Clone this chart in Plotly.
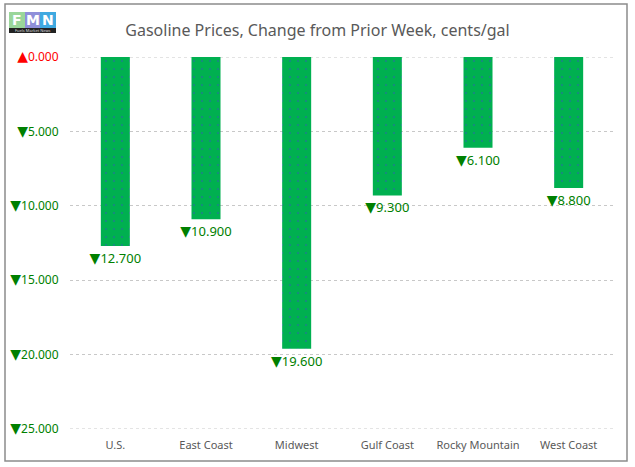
import plotly.graph_objects as go

regions = ["U.S.", "East Coast", "Midwest", "Gulf Coast", "Rocky Mountain", "West Coast"]
change = [12.7, 10.9, 19.6, 9.3, 6.1, 8.8]  # cents/gal decrease
tick_vals = [0, 5, 10, 15, 20, 25]

TRI = "font-family:DejaVu Sans;font-size:14px"
tick_text = [f"<span style='color:#FF0000'><span style='{TRI}'>▲</span>0.000</span>"] + [
    f"<span style='color:#008000'><span style='{TRI}'>▼</span>{v:.3f}</span>" for v in tick_vals[1:]
]
labels = [f"<span style='{TRI}'>▼</span>{v:.3f}" for v in change]

L, R, T, B = 70, 21, 57, 38
W, H = 635, 467
pw, ph = W - L - R, H - T - B

def px(x):
    return (x - L) / pw

def py(y):
    return (H - B - y) / ph

fig = go.Figure(go.Bar(
    x=regions, y=change, text=labels, textposition="outside", constraintext="none",
    textfont=dict(color="#008000", size=13, family="Noto Sans"),
    marker=dict(color="#00B050", line=dict(width=0),
                pattern=dict(shape=".", fgcolor="#3355bb", bgcolor="#00B050", size=8, solidity=0.06)),
    width=0.32, cliponaxis=False,
))

fig.update_layout(
    width=W, height=H, margin=dict(l=L, r=R, t=T, b=B, autoexpand=False),
    paper_bgcolor="white", plot_bgcolor="white", showlegend=False,
    title=dict(text="Gasoline Prices, Change from Prior Week, cents/gal", x=0.5, xanchor="center",
               y=1 - 30 / H, yanchor="middle",
               font=dict(size=16, color="#595959", family="Noto Sans")),
    font=dict(family="Noto Sans", color="#595959"),
    xaxis=dict(showgrid=False, showline=False, automargin=False,
               ticks="outside", ticklen=6, tickcolor="rgba(0,0,0,0)",
               tickfont=dict(size=11, color="#595959")),
    yaxis=dict(range=[25, 0], tickvals=tick_vals, ticktext=tick_text, showgrid=True, automargin=False,
               gridcolor="#c8c8c8", griddash="dot", zeroline=False, showline=False,
               tickfont=dict(size=12), ticks="outside", ticklen=8, tickcolor="rgba(0,0,0,0)"),
)

shapes = [
    dict(type="rect", xref="paper", yref="paper", x0=px(5), x1=px(627), y0=py(461), y1=py(4),
         line=dict(color="#8c8c8c", width=1.5), layer="below"),
    dict(type="line", xref="paper", yref="y", x0=0, x1=1, y0=tick_vals[0], y1=tick_vals[0],
         line=dict(color="#c8c8c8", width=1, dash="dot"), layer="below"),
    dict(type="line", xref="paper", yref="y", x0=0, x1=1, y0=tick_vals[-1], y1=tick_vals[-1],
         line=dict(color="#c8c8c8", width=1, dash="dot"), layer="below"),
    dict(type="rect", xref="paper", yref="paper", x0=px(9), x1=px(25), y0=py(28), y1=py(12),
         fillcolor="#9ad69a", line=dict(width=0)),
    dict(type="rect", xref="paper", yref="paper", x0=px(25), x1=px(40), y0=py(28), y1=py(12),
         fillcolor="#8f8fd9", line=dict(width=0)),
    dict(type="rect", xref="paper", yref="paper", x0=px(40), x1=px(56), y0=py(28), y1=py(12),
         fillcolor="#3fa9e0", line=dict(width=0)),
    dict(type="rect", xref="paper", yref="paper", x0=px(9), x1=px(56), y0=py(33), y1=py(28),
         fillcolor="#222222", line=dict(width=0)),
]
fig.update_layout(shapes=shapes)

ann = []
for ch, cx in zip("FMN", [17, 32.5, 48]):
    ann.append(dict(text=f"<b>{ch}</b>", xref="paper", yref="paper", x=px(cx), y=py(20),
                    showarrow=False, font=dict(size=14, color="white", family="DejaVu Sans"),
                    xanchor="center", yanchor="middle"))
ann.append(dict(text="Fuels Market News", xref="paper", yref="paper", x=px(32.5), y=py(30.5),
                showarrow=False, font=dict(size=4, color="#dddddd"), xanchor="center", yanchor="middle"))
fig.update_layout(annotations=ann)

fig.write_html("out.html", config={"displayModeBar": False},
               post_script="document.body.style.margin='0';document.body.style.overflow='hidden';")
